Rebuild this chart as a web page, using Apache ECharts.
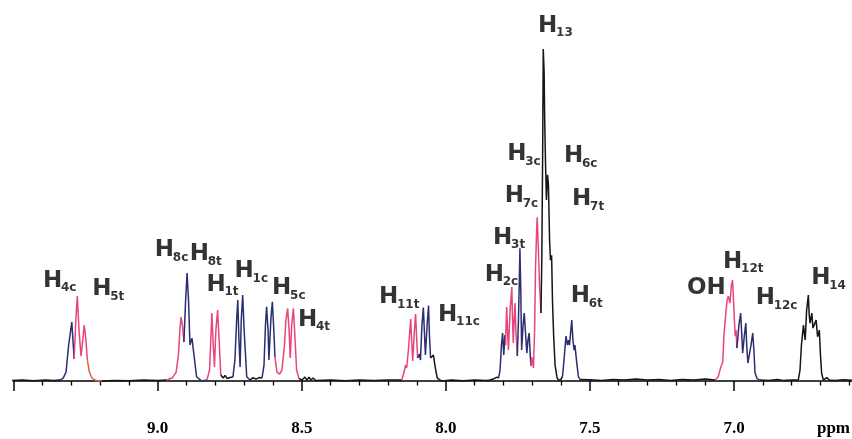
<!DOCTYPE html>
<html>
<head>
<meta charset="utf-8">
<script src="https://cdn.jsdelivr.net/npm/echarts@6/dist/echarts.min.js"></script>
<style>
html,body{margin:0;padding:0;background:#fff;}
#chart{width:852px;height:439px;}
</style>
</head>
<body>
<div id="chart"></div>
<script>
// ---- spectrum traces: [ppm, intensity] ----
const baseA = [[9.52,0.1],[9.47,0.3],[9.43,0.1],[9.39,0.3],[9.36,0.2],[9.339,0.3]];
const h4cNavy = [[9.339,0.3],[9.328,0.9],[9.318,2.7],[9.309,10.8],[9.298,17.7],[9.294,12.3],[9.290,6.6]];
const h4cPink = [[9.290,6.6],[9.284,18.3],[9.279,25.5],[9.273,15.3],[9.266,7.5],[9.260,12.3],[9.255,16.8],[9.249,12.3],[9.244,6.3]];
const h5tTail = [[9.244,6.3],[9.237,2.7],[9.228,0.9],[9.214,0.15],[9.194,0]];
const baseB = [[9.194,0],[9.15,0.2],[9.10,0.1],[9.05,0.3],[9.00,0.2],[8.969,0.3]];
const h8cPink = [[8.969,0.3],[8.950,0.9],[8.936,2.7],[8.928,7.8],[8.923,15.3],[8.919,19.2],[8.914,16.8],[8.909,11.7]];
const h8tNavy = [[8.909,11.7],[8.903,24.3],[8.898,32.4],[8.893,24.3],[8.888,10.8],[8.881,12.9],[8.874,7.8],[8.865,1.3],[8.847,0],[8.829,0.3]];
const h1tPink = [[8.829,0.3],[8.820,3.3],[8.812,20.4],[8.808,12.3],[8.803,4.2],[8.798,15.3],[8.792,21.3],[8.786,10.8],[8.781,1.8]];
const baseC = [[8.781,1.8],[8.773,0.9],[8.766,1.7],[8.759,0.75],[8.749,1.05],[8.739,1.2]];
const h1cNavy = [[8.739,1.2],[8.732,6.3],[8.726,18.3],[8.722,24.3],[8.718,12.3],[8.714,4.2],[8.710,18.3],[8.705,25.8],[8.700,15.3],[8.691,1.3],[8.680,0.3]];
const baseD = [[8.680,0.3],[8.669,1.05],[8.659,0.6],[8.648,1.05],[8.638,0.9]];
const h5Navy = [[8.638,0.9],[8.631,4.8],[8.626,16.8],[8.622,22.3],[8.617,15.3],[8.614,6.3],[8.607,18.9],[8.602,23.8],[8.597,15.3],[8.593,7.2]];
const h5cPink = [[8.593,7.2],[8.586,2.7],[8.577,2.1],[8.569,3.3],[8.560,10.8],[8.555,18.3],[8.549,21.8],[8.544,15.3],[8.540,6.9],[8.535,16.8],[8.529,21.8],[8.524,13.8],[8.518,3.3],[8.510,0.75]];
const h4tBase = [[8.510,0.75],[8.499,0.3],[8.489,1.2],[8.482,0.3],[8.475,1.2],[8.468,0.3],[8.461,0.9],[8.451,0.15],[8.40,0.3],[8.35,0.1],[8.30,0.3],[8.25,0.2],[8.20,0.3],[8.153,0.3]];
const h11tPink = [[8.153,0.3],[8.145,2.7],[8.140,4.8],[8.136,3.9],[8.130,9.3],[8.122,18.6],[8.118,10.8],[8.115,6.0],[8.109,15.3],[8.105,20.1],[8.101,12.3],[8.098,6.9]];
const h11Navy = [[8.098,6.9],[8.092,8.1],[8.088,6.3],[8.083,16.8],[8.078,22.1],[8.074,13.8],[8.071,7.8],[8.065,16.8],[8.060,22.7],[8.057,13.8],[8.053,6.9]];
const h11cBase = [[8.053,6.9],[8.048,6.9],[8.043,7.8],[8.038,4.8],[8.030,0.9],[8.014,0],[7.98,0.3],[7.94,0.1],[7.90,0.3],[7.86,0.2],[7.847,0.3],[7.836,0.6],[7.823,1.2],[7.817,0.9]];
const h2Navy = [[7.817,0.9],[7.812,3.3],[7.807,10.8],[7.803,14.4],[7.799,7.8],[7.795,13.8],[7.793,10.8]];
const h2cPink = [[7.793,10.8],[7.789,22.2],[7.786,15.3],[7.783,9.3],[7.777,21.3],[7.771,28.2],[7.769,19.8],[7.766,11.4],[7.763,18.3],[7.760,23.4],[7.757,15.3],[7.752,7.5]];
const h3tNavy = [[7.752,7.5],[7.748,18.3],[7.745,30.3],[7.743,39.9],[7.740,27.3],[7.737,9.3],[7.732,16.8],[7.728,20.4],[7.723,13.8],[7.719,8.4],[7.715,12.3],[7.711,14.4],[7.708,9.3],[7.705,4.5]];
const h7cPink = [[7.705,4.5],[7.702,7.2],[7.699,5.7],[7.696,3.9],[7.692,15.3],[7.689,33.3],[7.685,45.3],[7.683,49.2],[7.680,42.3],[7.677,34.8],[7.675,28.8],[7.672,24.3],[7.670,20.4]];
const h13Black = [[7.670,20.4],[7.667,36.3],[7.664,69.4],[7.662,99.7],[7.659,92.8],[7.657,78.4],[7.654,64.9],[7.651,54.4],[7.647,61.9],[7.644,58.9],[7.640,42.3],[7.637,36.3],[7.633,37.8],[7.630,24.3],[7.626,13.8],[7.621,4.8],[7.614,0.9],[7.607,0.15],[7.600,0.6],[7.595,1.5]];
const h6tNavy = [[7.595,1.5],[7.590,6.3],[7.583,13.5],[7.578,10.8],[7.574,12.3],[7.571,10.8],[7.563,18.3],[7.559,12.3],[7.555,9.3],[7.552,10.8],[7.546,5.7],[7.540,1.3],[7.534,0.45]];
const baseE = [[7.534,0.45],[7.50,0.4],[7.46,0.2],[7.42,0.5],[7.38,0.3],[7.34,0.6],[7.30,0.3],[7.26,0.5],[7.22,0.2],[7.18,0.5],[7.14,0.3],[7.10,0.6],[7.066,0.3]];
const ohPink = [[7.066,0.3],[7.055,1.2],[7.047,3.9],[7.039,5.7],[7.035,13.8],[7.029,19.8],[7.024,24.3],[7.020,25.5],[7.014,23.4],[7.009,28.8],[7.005,30.3],[7.001,22.8],[6.996,13.5],[6.993,15.3],[6.990,9.9]];
const h12cNavy = [[6.990,9.9],[6.983,16.8],[6.977,20.4],[6.973,13.8],[6.970,8.4],[6.964,13.8],[6.959,17.4],[6.956,10.8],[6.952,5.4],[6.948,4.8],[6.941,10.8],[6.935,14.4],[6.931,9.3],[6.927,2.4],[6.920,0.75],[6.910,0.3]];
const h14Black = [[6.910,0.3],[6.88,0.2],[6.85,0.5],[6.83,0.2],[6.80,0.3],[6.777,0.3],[6.771,3.3],[6.766,10.8],[6.759,16.8],[6.753,12.3],[6.748,21.3],[6.742,25.8],[6.739,19.8],[6.736,17.4],[6.730,20.4],[6.726,15.9],[6.722,16.3],[6.715,18.3],[6.710,13.3],[6.704,15.3],[6.700,7.8],[6.696,2.4],[6.690,0.3],[6.678,1.05],[6.670,0.3],[6.65,0.2],[6.62,0.4],[6.58,0.2]];

// ---- peak labels ----
const labelPpm = [9.398, 9.227, 9.010, 8.889, 8.831, 8.733, 8.603, 8.513, 8.232, 8.027, 7.865, 7.836, 7.796, 7.787, 7.590, 7.562, 7.680, 7.567, 7.163, 7.038, 6.925, 6.732];
const labelInt = [33.6, 31.1, 42.8, 41.6, 32.4, 36.4, 31.4, 21.9, 28.7, 23.4, 35.4, 46.5, 58.9, 71.5, 71.0, 58.0, 110.2, 28.9, 31.4, 39.3, 28.4, 34.4];
const labelMain = ['H','H','H','H','H','H','H','H','H','H','H','H','H','H','H','H','H','H','OH','H','H','H'];
const labelSub = ['4c','5t','8c','8t','1t','1c','5c','4t','11t','11c','2c','3t','7c','3c','6c','7t','13','6t','','12t','12c','14'];

// ---- axis ticks ----
const xMin = 6.5, xMax = 9.5, xStep = 0.5;
const axisUnit = 'ppm';

const C = {k:'#151515', n:'#2b2f72', p:'#e8457c', r:'#d2654c'};
const traces = [
  [baseA,'k'],[h4cNavy,'n'],[h4cPink,'p'],[h5tTail,'r'],[baseB,'k'],[h8cPink,'p'],[h8tNavy,'n'],
  [h1tPink,'p'],[baseC,'k'],[h1cNavy,'n'],[baseD,'k'],[h5Navy,'n'],[h5cPink,'p'],[h4tBase,'k'],
  [h11tPink,'p'],[h11Navy,'n'],[h11cBase,'k'],[h2Navy,'n'],[h2cPink,'p'],[h3tNavy,'n'],[h7cPink,'p'],
  [h13Black,'k'],[h6tNavy,'n'],[baseE,'k'],[ohPink,'p'],[h12cNavy,'n'],[h14Black,'k']
];

const series = traces.map(([d,c]) => ({
  type:'line', data:d, symbol:'none', showSymbol:false, silent:true, animation:false, clip:true,
  lineStyle:{color:C[c], width:1.5}, z:2
}));

const labelFont = {fontFamily:'DejaVu Sans', fontWeight:'bold', color:'#000'};
series.push({
  type:'scatter', symbolSize:0, silent:true, animation:false, clip:false, z:5,
  data: labelPpm.map((p,i)=>({value:[p, labelInt[i]], label:{formatter: labelMain[i]}})),
  label:Object.assign({show:true, position:'inside', align:'left', verticalAlign:'top', fontSize:23}, labelFont)
});
series.push({
  type:'scatter', symbolSize:0, silent:true, animation:false, clip:false, z:5,
  data: labelPpm.map((p,i)=>({value:[p, labelInt[i]], label:{formatter: labelSub[i]}})),
  label:Object.assign({show:true, position:'inside', align:'left', verticalAlign:'top', fontSize:12, offset:[18,13]}, labelFont)
});

const chart = echarts.init(document.getElementById('chart'), null, {renderer:'canvas'});
chart.setOption({
  backgroundColor:'#fff',
  animation:false,
  grid:{left:13.6, width:864.5, top:14.7, bottom:36.3, containLabel:false, outerBoundsMode:'none'},
  xAxis:{
    type:'value', inverse:true, min:xMin, max:xMax, interval:xStep,
    axisLine:{show:true, lineStyle:{color:'#000', width:1.5}},
    axisTick:{show:true, length:10, lineStyle:{color:'#000', width:1.5}},
    minorTick:{show:true, splitNumber:5, length:4.5, lineStyle:{color:'#000', width:1.3}},
    splitLine:{show:false},
    axisLabel:{
      margin:17, color:'#000', fontFamily:'Liberation Serif', fontWeight:'bold', fontSize:17,
      formatter: v => (Math.abs(v-xMax)<1e-6 || Math.abs(v-xMin)<1e-6) ? '' : v.toFixed(1)
    }
  },
  yAxis:{type:'value', min:-6.5, max:110, show:false},
  graphic:[{
    type:'text', x:850, y:429,
    style:{text:axisUnit, align:'right', verticalAlign:'middle', fill:'#000', font:'bold 17px "Liberation Serif"'}
  }],
  series
});
</script>
</body>
</html>
